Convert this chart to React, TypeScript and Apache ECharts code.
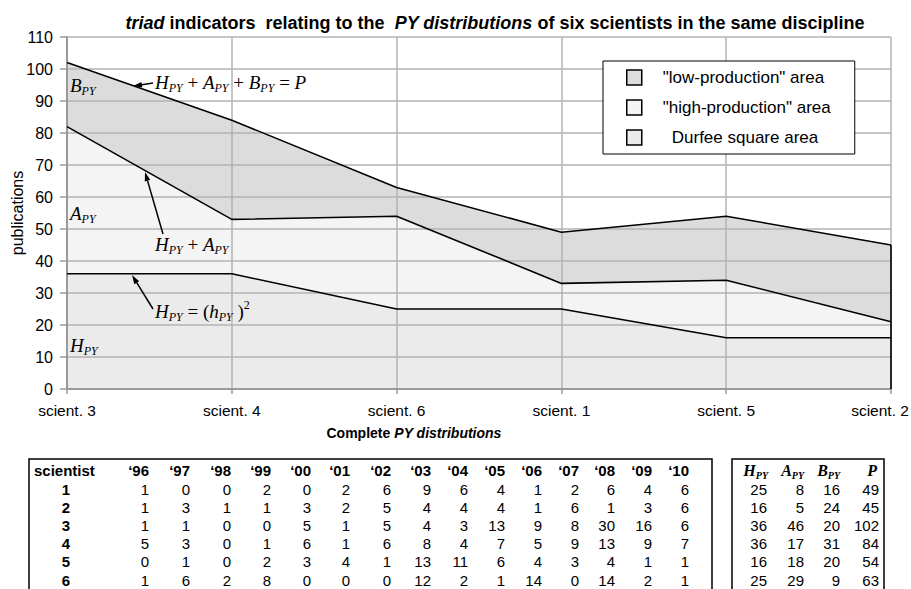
import React, { useEffect, useRef } from "react";
import * as echarts from "echarts";

// ---------- data ----------
const chartIds = [3, 4, 6, 1, 5, 2];
const chartLabels = ["scient. 3", "scient. 4", "scient. 6", "scient. 1", "scient. 5", "scient. 2"];
const scientists = [1, 2, 3, 4, 5, 6];
const years = ["‘96", "‘97", "‘98", "‘99", "‘00", "‘01", "‘02", "‘03", "‘04", "‘05", "‘06", "‘07", "‘08", "‘09", "‘10"];
const pyS1 = [1, 0, 0, 2, 0, 2, 6, 9, 6, 4, 1, 2, 6, 4, 6];
const pyS2 = [1, 3, 1, 1, 3, 2, 5, 4, 4, 4, 1, 6, 1, 3, 6];
const pyS3 = [1, 1, 0, 0, 5, 1, 5, 4, 3, 13, 9, 8, 30, 16, 6];
const pyS4 = [5, 3, 0, 1, 6, 1, 6, 8, 4, 7, 5, 9, 13, 9, 7];
const pyS5 = [0, 1, 0, 2, 3, 4, 1, 13, 11, 6, 4, 3, 4, 1, 1];
const pyS6 = [1, 6, 2, 8, 0, 0, 0, 12, 2, 1, 14, 0, 14, 2, 1];
const pyDist = [pyS1, pyS2, pyS3, pyS4, pyS5, pyS6];
const hPY = [25, 16, 36, 36, 16, 25];
const aPY = [8, 5, 46, 17, 18, 29];
const bPY = [16, 24, 20, 31, 20, 9];
const pTot = [49, 45, 102, 84, 54, 63];
const yMin = 0;
const yMax = 110;
const yStep = 10;
const seriesNames = ["Durfee square area", '"high-production" area', '"low-production" area'];
const legendOrder = ['"low-production" area', '"high-production" area', "Durfee square area"];

// ---------- styles ----------
const SANS = "'Liberation Sans', Arial, sans-serif";
const SERIF = "'Liberation Serif', 'Times New Roman', serif";
const GRID = "#b3b3b3";
const AXIS = "#9a9a9a";
const fills = ["#ebebeb", "#f4f4f4", "#dcdcdc"];

const mathRich: any = {
  m: { fontFamily: SERIF, fontStyle: "italic", fontSize: 19, lineHeight: 24, fill: "#000" },
  r: { fontFamily: SERIF, fontSize: 19, lineHeight: 24, fill: "#000" },
  s: { fontFamily: SERIF, fontStyle: "italic", fontSize: 12, lineHeight: 12, verticalAlign: "bottom", fill: "#000" },
  u: { fontFamily: SERIF, fontSize: 12, lineHeight: 12, verticalAlign: "top", fill: "#000" },
};
const headRich: any = {
  m: { fontFamily: SERIF, fontStyle: "italic", fontWeight: "bold", fontSize: 16, lineHeight: 20, fill: "#000" },
  s: { fontFamily: SERIF, fontStyle: "italic", fontWeight: "bold", fontSize: 10, lineHeight: 10, verticalAlign: "bottom", fill: "#000" },
};

function mathText(x: number, y: number, text: string) {
  return {
    type: "text",
    x,
    y,
    z: 20,
    silent: true,
    style: { text, rich: mathRich, align: "left", verticalAlign: "middle" },
  };
}

function arrow(x1: number, y1: number, x2: number, y2: number) {
  const ang = Math.atan2(y2 - y1, x2 - x1);
  const len = 9;
  const half = 2.8;
  const bx = x2 - len * Math.cos(ang);
  const by = y2 - len * Math.sin(ang);
  const px = -Math.sin(ang) * half;
  const py = Math.cos(ang) * half;
  return [
    { type: "line", z: 20, silent: true, shape: { x1, y1, x2: bx, y2: by }, style: { stroke: "#000", lineWidth: 1.5 } },
    {
      type: "polygon",
      z: 20,
      silent: true,
      shape: { points: [[x2, y2], [bx + px, by + py], [bx - px, by - py]] },
      style: { fill: "#000" },
    },
  ];
}

export default function App() {
  const ref = useRef<HTMLDivElement>(null);

  useEffect(() => {
    document.body.style.margin = "0";
    if (!ref.current) return;
    const chart = echarts.init(ref.current, undefined, { renderer: "svg" });

    const hSer = chartIds.map((id) => hPY[id - 1]);
    const aSer = chartIds.map((id) => aPY[id - 1]);
    const bSer = chartIds.map((id) => bPY[id - 1]);
    const pSer = chartIds.map((id) => pTot[id - 1]);
    const parts = [hSer, aSer, bSer];

    const areaSeries = parts.map((d, i) => ({
      name: seriesNames[i],
      type: "line",
      stack: "area",
      data: d,
      symbol: "none",
      z: 1,
      silent: true,
      itemStyle: { color: fills[i] },
      lineStyle: { width: 0, color: fills[i] },
      areaStyle: { color: fills[i], opacity: 1 },
    }));
    const edgeSeries: any[] = parts.map((d, i) => ({
      name: "edge" + i,
      type: "line",
      stack: "edges",
      data: d,
      symbol: "none",
      z: 5,
      silent: true,
      lineStyle: { width: 1.6, color: "#000" },
      itemStyle: { color: "#000" },
    }));
    edgeSeries[2].markLine = {
      silent: true,
      symbol: "none",
      label: { show: false },
      lineStyle: { color: "#000", width: 1.6, type: "solid" },
      data: [[{ coord: [chartLabels.length - 1, yMin] }, { coord: [chartLabels.length - 1, pSer[pSer.length - 1]] }]],
    };

    // ----- table graphics -----
    const tableEls: any[] = [];
    const colRight = [149, 190, 231, 271, 311, 350, 391, 431, 468, 505, 542, 579, 615, 652, 689];
    const rowY0 = 489;
    const rowStep = 18.2;
    const headY = 470;
    const tFont = (w: string) => `${w} 15px ${SANS}`;
    tableEls.push({
      type: "text",
      x: 414,
      y: 433,
      style: {
        text: "Complete {bi|PY distributions}",
        font: `bold 14px ${SANS}`,
        fill: "#000",
        align: "center",
        verticalAlign: "middle",
        rich: { bi: { fontFamily: SANS, fontWeight: "bold", fontStyle: "italic", fontSize: 14 } },
      },
    });
    tableEls.push({ type: "rect", shape: { x: 29, y: 459, width: 683, height: 160 }, style: { fill: "none", stroke: "#000", lineWidth: 1.5 } });
    tableEls.push({ type: "rect", shape: { x: 732, y: 459, width: 152, height: 160 }, style: { fill: "none", stroke: "#000", lineWidth: 1.5 } });
    tableEls.push({ type: "text", x: 34, y: headY, style: { text: "scientist", font: tFont("bold"), fill: "#000", align: "left", verticalAlign: "middle" } });
    years.forEach((yr, j) => {
      tableEls.push({ type: "text", x: colRight[j], y: headY, style: { text: yr, font: tFont("bold"), fill: "#000", align: "right", verticalAlign: "middle" } });
    });
    scientists.forEach((s, i) => {
      const y = rowY0 + i * rowStep;
      tableEls.push({ type: "text", x: 66, y, style: { text: String(s), font: tFont("bold"), fill: "#000", align: "center", verticalAlign: "middle" } });
      pyDist[i].forEach((v, j) => {
        tableEls.push({ type: "text", x: colRight[j], y, style: { text: String(v), font: tFont("normal"), fill: "#000", align: "right", verticalAlign: "middle" } });
      });
    });
    const triadHeads = ["{m|H}{s|PY}", "{m|A}{s|PY}", "{m|B}{s|PY}", "{m|P}"];
    const triadHeadX = [768, 804, 840, 877];
    const triadValX = [767, 804, 840, 879];
    triadHeads.forEach((t, j) => {
      tableEls.push({ type: "text", x: triadHeadX[j], y: headY, style: { text: t, rich: headRich, align: "right", verticalAlign: "middle" } });
    });
    const triadCols = [hPY, aPY, bPY, pTot];
    scientists.forEach((s, i) => {
      const y = rowY0 + i * rowStep;
      triadCols.forEach((col, j) => {
        tableEls.push({ type: "text", x: triadValX[j], y, style: { text: String(col[i]), font: tFont("normal"), fill: "#000", align: "right", verticalAlign: "middle" } });
      });
    });

    const annots: any[] = [
      mathText(70, 85, "{m|B}{s|PY}"),
      mathText(70, 213, "{m|A}{s|PY}"),
      mathText(70, 345, "{m|H}{s|PY}"),
      mathText(155, 82, "{m|H}{s|PY}{r| + }{m|A}{s|PY}{r| + }{m|B}{s|PY}{r| = }{m|P}"),
      mathText(155, 244, "{m|H}{s|PY}{r| + }{m|A}{s|PY}"),
      mathText(155, 311, "{m|H}{s|PY}{r| = (}{m|h}{s|PY}{r| )}{u|2}"),
      ...arrow(153, 83, 133, 86),
      ...arrow(163, 234, 145, 172),
      ...arrow(153, 309, 132, 275),
    ];

    const option: any = {
      animation: false,
      backgroundColor: "#fff",
      title: {
        text: "{bi|triad} indicators  relating to the  {bi|PY distributions} of six scientists in the same discipline",
        left: 490,
        textAlign: "center",
        top: 9,
        textStyle: {
          fontFamily: SANS,
          fontWeight: "bold",
          fontSize: 18,
          color: "#000",
          rich: { bi: { fontFamily: SANS, fontWeight: "bold", fontStyle: "italic", fontSize: 18, color: "#000" } },
        },
      },
      legend: {
        data: legendOrder,
        orient: "vertical",
        left: 603,
        top: 61,
        padding: [8, 24, 8, 23],
        itemGap: 13,
        itemWidth: 15,
        itemHeight: 15,
        icon: "rect",
        borderColor: "#000",
        borderWidth: 1,
        backgroundColor: "#fff",
        selectedMode: false,
        itemStyle: { borderColor: "#000", borderWidth: 1.5 },
        textStyle: {
          fontFamily: SANS,
          fontSize: 17,
          color: "#000",
          lineHeight: 16,
          padding: [0, 0, 0, 16],
          rich: { d: { fontFamily: SANS, fontSize: 17, color: "#000", padding: [0, 0, 0, 9] } },
        },
        formatter: (name: string) => (name === "Durfee square area" ? `{d|${name}}` : name),
      },
      grid: { left: 67, right: 20, top: 37, bottom: 200, containLabel: false, outerBoundsMode: "none" },
      xAxis: {
        type: "category",
        data: chartLabels,
        boundaryGap: false,
        z: 3,
        axisLine: { show: true, lineStyle: { color: AXIS, width: 2 } },
        axisTick: { show: true, length: 5, lineStyle: { color: AXIS, width: 1.5 } },
        splitLine: { show: true, lineStyle: { color: GRID, width: 1.5 } },
        axisLabel: {
          fontFamily: SANS,
          fontSize: 15.5,
          color: "#000",
          margin: 13,
          formatter: (v: string, i: number) => (i === chartLabels.length - 1 ? `{last|${v}}` : v),
          rich: { last: { fontFamily: SANS, fontSize: 15.5, color: "#000", padding: [0, 22, 0, 0] } },
        },
      },
      yAxis: {
        type: "value",
        min: yMin,
        max: yMax,
        interval: yStep,
        z: 3,
        name: "publications",
        nameLocation: "middle",
        nameGap: 42,
        nameMoveOverlap: false,
        nameTextStyle: { fontFamily: SANS, fontSize: 16, color: "#000" },
        axisLine: { show: true, lineStyle: { color: AXIS, width: 2 } },
        axisTick: { show: true, length: 7, lineStyle: { color: AXIS, width: 1.5 } },
        splitLine: { show: true, lineStyle: { color: GRID, width: 1.5 } },
        axisLabel: { fontFamily: SANS, fontSize: 16, color: "#000", margin: 14 },
      },
      series: [...areaSeries, ...edgeSeries],
      graphic: [...annots, ...tableEls],
    };

    chart.setOption(option);
    return () => chart.dispose();
  }, []);

  return <div ref={ref} style={{ width: 911, height: 589 }} />;
}
